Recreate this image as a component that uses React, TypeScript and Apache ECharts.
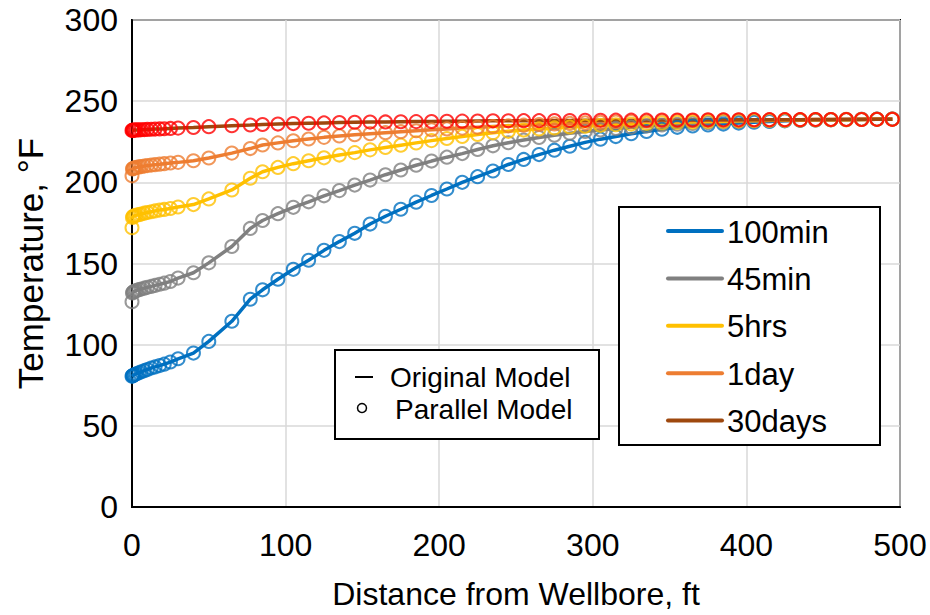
import React, { useEffect, useRef } from "react";
import * as echarts from "echarts";

// Radial distance from the wellbore (ft) at which temperatures are reported
const distanceFt = [
  0, 0.3, 0.7, 1.2, 2, 3, 4.5, 6, 8, 10, 12.5, 15, 18, 21, 25, 30, 40, 50, 65, 77,
  85, 95, 105, 115, 125, 135, 145, 155, 165, 175, 185, 195, 205, 215, 225, 235,
  245, 255, 265, 275, 285, 295, 305, 315, 325, 335, 345, 355, 365, 375, 385, 395,
  405, 415, 425, 435, 445, 455, 465, 475, 485, 495,
];

// Temperature profiles (°F), original model
const temp100min = [
  80.5, 80.8, 81.0, 81.3, 81.7, 82.1, 82.7, 83.3, 84.0, 84.7, 85.6, 86.3, 87.1, 88.0, 89.3, 91.3, 94.8, 102.0, 114.4, 128.0,
  133.8, 140.3, 146.4, 152.0, 158.1, 163.5, 168.6, 174.3, 179.1, 183.4, 187.8, 191.9, 195.9, 200.0, 203.5, 207.0,
  211.0, 214.1, 217.1, 219.8, 222.2, 224.6, 226.6, 228.2, 229.9, 231.3, 232.7, 233.9, 234.7, 235.3, 235.9, 236.5,
  237.0, 237.5, 237.9, 238.2, 238.4, 238.6, 238.7, 238.8, 238.9, 239.0,
];
const temp45min = [
  131.0, 131.8, 132.3, 132.7, 133.0, 133.4, 133.9, 134.3, 134.8, 135.3, 135.9, 136.5, 137.2, 137.9, 138.9, 141.0, 144.3, 150.4, 160.5, 171.6,
  176.5, 180.7, 184.6, 188.0, 191.7, 194.9, 198.3, 201.4, 204.7, 207.6, 210.5, 213.1, 215.5, 217.7, 220.2, 222.5,
  224.4, 226.1, 227.6, 229.0, 230.2, 231.3, 232.3, 233.2, 234.0, 234.7, 235.3, 235.8, 236.3, 236.7, 237.1, 237.4,
  237.7, 237.9, 238.1, 238.3, 238.4, 238.5, 238.6, 238.7, 238.8, 238.9,
];
const temp5hrs = [
  177.5, 178.4, 178.9, 179.2, 179.5, 179.8, 180.1, 180.5, 181.0, 181.4, 181.9, 182.4, 182.9, 183.3, 183.9, 184.8, 186.3, 189.8, 195.3, 202.5,
  206.5, 209.2, 211.5, 213.3, 215.1, 216.8, 218.3, 220.0, 221.5, 222.9, 224.3, 225.7, 227.0, 228.3, 229.5, 230.5,
  231.4, 232.2, 232.9, 233.5, 234.1, 234.6, 235.1, 235.5, 235.9, 236.3, 236.6, 236.9, 237.2, 237.5, 237.7, 237.9,
  238.1, 238.2, 238.3, 238.4, 238.5, 238.6, 238.6, 238.7, 238.8, 238.8,
];
const temp1day = [
  207.5, 208.2, 208.5, 208.8, 209.0, 209.2, 209.5, 209.7, 210.0, 210.3, 210.6, 210.9, 211.2, 211.5, 211.9, 212.3, 213.3, 215.0, 218.0, 220.8,
  223.0, 224.3, 225.6, 226.7, 227.7, 228.6, 229.3, 230.0, 230.6, 231.2, 231.8, 232.4, 232.9, 233.4, 233.9, 234.4,
  234.8, 235.2, 235.6, 236.0, 236.3, 236.6, 236.9, 237.2, 237.4, 237.6, 237.8, 238.0, 238.1, 238.2, 238.3, 238.4,
  238.5, 238.5, 238.6, 238.6, 238.7, 238.7, 238.8, 238.8, 238.8, 238.9,
];
const temp30days = [
  232.0, 232.1, 232.1, 232.2, 232.2, 232.3, 232.3, 232.4, 232.5, 232.6, 232.7, 232.8, 232.9, 233.0, 233.2, 233.4, 233.8, 234.3, 234.9, 235.3,
  235.6, 235.9, 236.2, 236.4, 236.6, 236.8, 237.0, 237.1, 237.2, 237.3, 237.4, 237.5, 237.6, 237.7, 237.8, 237.9,
  237.9, 238.0, 238.0, 238.1, 238.1, 238.2, 238.2, 238.3, 238.3, 238.3, 238.4, 238.4, 238.4, 238.5, 238.5, 238.5,
  238.6, 238.6, 238.6, 238.6, 238.7, 238.7, 238.7, 238.7, 238.8, 238.8,
];

// Parallel model differs from the original only at the wellbore face
const parallelAtWellbore = [80.5, 126.5, 172.0, 204.0, 232.0];

const seriesNames = ["100min", "45min", "5hrs", "1day", "30days"];
const profiles = [temp100min, temp45min, temp5hrs, temp1day, temp30days];
const lineColors = ["#0070C0", "#808080", "#FFC000", "#ED7D31", "#9E480E"];
const markerColors = ["#0070C0", "#808080", "#FFC000", "#ED7D31", "#FF0000"];

const xTicks = { min: 0, max: 500, interval: 100 };
const yTicks = { min: 0, max: 300, interval: 50 };

const FONT = '"Liberation Sans", Arial, sans-serif';

export default function App() {
  const ref = useRef<HTMLDivElement>(null);

  useEffect(() => {
    if (!ref.current) return;
    const chart = echarts.init(ref.current, undefined, { renderer: "svg" });

    const lineSeries = profiles.map((vals, k) => ({
      name: seriesNames[k],
      type: "line",
      data: distanceFt.map((d, i) => [d, vals[i]]),
      showSymbol: false,
      symbol: "none",
      lineStyle: { color: lineColors[k], width: 3.5 },
      itemStyle: { color: lineColors[k] },
      z: 2,
    }));

    const markerSeries = profiles.map((vals, k) => ({
      name: seriesNames[k] + " (parallel)",
      type: "scatter",
      data: distanceFt.map((d, i) => [d, i === 0 ? parallelAtWellbore[k] : vals[i]]),
      symbol: "circle",
      symbolSize: 13,
      itemStyle: {
        color: "rgba(0,0,0,0)",
        borderColor: markerColors[k],
        borderWidth: 2,
      },
      z: 3,
    }));

    // Series legend (right) and model legend (centre)
    const legX = 619, legY = 207, rowGap = 47.4, firstRow = 231;
    const seriesLegend: any[] = [
      {
        type: "rect",
        shape: { x: legX, y: legY, width: 261, height: 238 },
        style: { fill: "#fff", stroke: "#000", lineWidth: 2 },
        z: 10,
      },
    ];
    seriesNames.forEach((name, k) => {
      const y = firstRow + k * rowGap;
      seriesLegend.push({
        type: "line",
        shape: { x1: 668, y1: y, x2: 722, y2: y },
        style: { stroke: lineColors[k], lineWidth: 4, lineCap: "round" },
        z: 11,
      });
      seriesLegend.push({
        type: "text",
        x: 727,
        y: y + 1,
        style: {
          text: name,
          font: `31px ${FONT}`,
          fill: "#000",
          verticalAlign: "middle",
          align: "left",
        },
        z: 11,
      });
    });

    const modelLegend: any[] = [
      {
        type: "rect",
        shape: { x: 335, y: 350, width: 264, height: 89 },
        style: { fill: "#fff", stroke: "#000", lineWidth: 2 },
        z: 10,
      },
      {
        type: "line",
        shape: { x1: 355, y1: 377, x2: 373, y2: 377 },
        style: { stroke: "#000", lineWidth: 2 },
        z: 11,
      },
      {
        type: "text",
        x: 390,
        y: 377,
        style: { text: "Original Model", font: `28px ${FONT}`, fill: "#000", verticalAlign: "middle" },
        z: 11,
      },
      {
        type: "circle",
        shape: { cx: 362, cy: 408, r: 4.5 },
        style: { fill: "none", stroke: "#000", lineWidth: 1.5 },
        z: 11,
      },
      {
        type: "text",
        x: 395,
        y: 409,
        style: { text: "Parallel Model", font: `28px ${FONT}`, fill: "#000", verticalAlign: "middle" },
        z: 11,
      },
    ];

    chart.setOption({
      animation: false,
      backgroundColor: "#fff",
      textStyle: { fontFamily: FONT },
      grid: {
        left: 132,
        top: 20,
        width: 768,
        height: 494.5,
        show: true,
        borderColor: "#000",
        borderWidth: 2,
        containLabel: false,
      },
      xAxis: {
        type: "value",
        ...xTicks,
        name: "Distance from Wellbore, ft",
        nameLocation: "middle",
        nameGap: 71,
        nameTextStyle: { fontSize: 32, color: "#000", fontFamily: FONT },
        axisLine: { show: true, lineStyle: { color: "#000", width: 2 } },
        axisTick: { show: false },
        axisLabel: { fontSize: 32, color: "#000", margin: 22, fontFamily: FONT },
        splitLine: { show: true, lineStyle: { color: "#D9D9D9", width: 1.5 } },
      },
      yAxis: {
        type: "value",
        ...yTicks,
        name: "Temperature, °F",
        nameLocation: "middle",
        nameGap: 84,
        nameRotate: 90,
        nameTextStyle: { fontSize: 35, color: "#000", fontFamily: FONT },
        axisLine: { show: true, lineStyle: { color: "#000", width: 2 } },
        axisTick: { show: false },
        axisLabel: { fontSize: 32, color: "#000", margin: 14, fontFamily: FONT },
        splitLine: { show: true, lineStyle: { color: "#D9D9D9", width: 1.5 } },
      },
      legend: { show: false },
      series: [...lineSeries, ...markerSeries],
      graphic: [...seriesLegend, ...modelLegend],
    });

    return () => chart.dispose();
  }, []);

  return (
    <div
      ref={ref}
      style={{ position: "fixed", left: 0, top: 0, width: 930, height: 615 }}
    />
  );
}
